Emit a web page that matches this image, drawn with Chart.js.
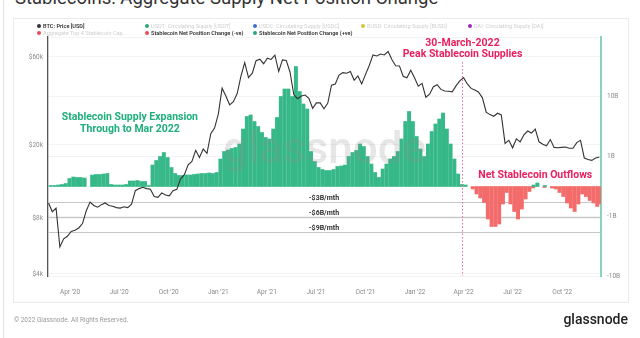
<!DOCTYPE html>
<html><head><meta charset="utf-8">
<script src="https://cdn.jsdelivr.net/npm/chart.js@4.4.1/dist/chart.umd.min.js"></script>
<style>
html,body{margin:0;padding:0;background:#fff;width:640px;height:338px;overflow:hidden;font-family:Roboto,'Noto Sans',sans-serif;}
#title{position:absolute;left:15px;top:-11px;font-size:18.5px;line-height:18px;color:#333;white-space:nowrap;}
#card{position:absolute;left:13px;top:18px;width:614px;height:283px;border:1px solid #ebebeb;}
#edge{position:absolute;left:3px;top:0;width:1px;height:338px;background:#e2e2e2;}
#wrap{position:absolute;left:0;top:0;width:640px;height:338px;}
.li{position:absolute;font-size:5.6px;line-height:7px;white-space:nowrap;}
.dot{display:inline-block;width:4px;height:4px;border-radius:50%;margin-right:2px;vertical-align:-0.5px;}
#copy{position:absolute;left:14px;top:316px;font-size:6.5px;color:#9a9a9a;}
#logo{position:absolute;right:12px;top:311px;font-size:14px;color:#222;font-weight:500;}
</style>
</head><body>
<div id="edge"></div>
<div id="title">Stablecoins: Aggregate Supply Net Position Change</div>
<div id="card"></div>
<div id="wrap"><canvas id="c" width="640" height="338"></canvas></div>
<div id="legend"></div>
<div id="copy">© 2022 Glassnode. All Rights Reserved.</div>
<div id="logo">glassnode</div>
<script>
// ---------- data ----------
const WEEK_START = '2020-02-21'; // first weekly observation (Fridays)
const BTC_PRICE = [
 9700,8700,9100,5600,6200,6400,6800,6900,7100,7500,
 8800,9800,9400,9200,9500,9700,9400,9300,9150,9100,
 9250,9150,9550,11300,11600,11800,11600,11500,10500,10400,
 11000,10700,10600,11300,11500,13100,13800,15600,16300,18700,
 17100,19000,18000,23000,24700,
 29400,40600,36800,33000,34300,38000,47200,55900,46300,49000,
 57200,58300,55100,59000,58100,61300,50000,57800,57400,49700,
 37500,35600,36800,37300,35800,31600,33800,33800,31400,33600,
 42200,42800,47800,49300,48900,50000,44900,47300,42800,48100,
 53900,61500,60700,62200,61500,64200,58100,53700,53600,47100,
 46200,50800,46300,
 41600,43100,36300,37700,41400,42400,40000,39200,39100,38800,
 41800,44500,46300,42800,40500,39700,38600,36000,30100,29200,
 28600,29700,29100,20400,21200,19300,21600,20800,22700,23800,
 23200,24400,20800,20200,19800,21400,19400,19300,19400,19500,
 19200,19200,20600,21200,17000,16700,16500,17000,17200
];
const NET_CHANGE_B = [
 0,0.2,0.2,0.3,0.4,0.6,1.6,1.9,1.8,1.8,
 1.7,0,2.3,2.4,2.4,2.5,2.6,0.4,0.3,0.3,
 0.3,0.4,1.1,1.1,1.2,1.0,1.0,0.2,4.3,5.2,
 6.0,6.8,5.8,3.8,2.6,2.2,2.2,2.3,2.3,2.4,
 2.5,2.6,2.6,2.7,2.6,2.8,5.5,7.0,7.3,7.6,
 7.8,8.5,11.5,14.0,14.3,13.0,12.0,10.8,9.8,9.5,
 11.5,13.8,18.0,19.5,19.5,18.0,24.0,19.0,16.5,15.5,
 7.0,5.0,3.8,3.4,3.2,3.2,3.4,4.0,4.1,4.3,
 6.0,6.8,7.2,8.5,8.0,6.0,4.5,2.8,1.8,3.5,
 4.5,5.5,6.0,7.0,9.5,13.0,15.0,13.0,10.0,7.5,
 6.0,8.5,11.0,12.5,13.5,14.7,11.5,8.5,5.5,2.5,
 0.4,0.3,-0.5,-1.5,-2.3,-3.2,-6.5,-8.0,-8.0,-7.5,
 -3.5,-1.2,-3.5,-5.0,-6.5,-4.5,-2.5,-1.0,-0.3,0.3,
 0.7,-0.2,0.2,-0.3,-0.5,-1.2,-2.0,-3.3,-4.3,-5.0,
 -3.5,-1.5,-2.0,-2.8,-3.3,-4.0,-3.5
];
const X_TICK_DATES = ['2020-04-01','2020-07-01','2020-10-01','2021-01-01','2021-04-01','2021-07-01','2021-10-01','2022-01-01','2022-04-01','2022-07-01','2022-10-01'];
const X_TICK_LABELS = ["Apr '20","Jul '20","Oct '20","Jan '21","Apr '21","Jul '21","Oct '21","Jan '22","Apr '22","Jul '22","Oct '22"];
const X_RANGE = ['2020-02-20','2022-12-12'];
const PRICE_TICKS = [4000,8000,20000,60000];
const PRICE_TICK_LABELS = ['$4k','$8k','$20k','$60k'];
const RIGHT_TICK_LABELS = ['','10B','1B','-1B','-10B'];
const GUIDE_LEVELS = [-3,-6,-9];
const GUIDE_LABELS = ['-$3B/mth','-$6B/mth','-$9B/mth'];
const GUIDE_LABEL_DATE = '2021-07-16';
const PEAK_DATE = '2022-03-30';
const PEAK_TEXT = ['30-March-2022','Peak Stablecoin Supplies'];
const OUTFLOW_TEXT = 'Net Stablecoin Outflows';
const OUTFLOW_DATE = '2022-08-12';
const EXPANSION_TEXT = ['Stablecoin Supply Expansion','Through to Mar 2022'];
const EXPANSION_DATE = '2020-07-21';
const LEGEND_ROWS = [
 [['BTC: Price [USD]','#333333',true],['USDT: Circulating Supply [USDT]','#2aa876',false],['USDC: Circulating Supply [USDC]','#3d6fd6',false],['BUSD: Circulating Supply [BUSD]','#d6c63c',false],['DAI: Circulating Supply [DAI]','#a12bc2',false]],
 [['Aggregate Top 4 Stablecoin Cap...','#ec4b55',false],['Stablecoin Net Position Change (-ve)','#ec4b55',true],['Stablecoin Net Position Change (+ve)','#2aa876',true]]
];

// ---------- helpers ----------
const DAY = 86400000;
const EPOCH = Date.UTC(2020,0,1);
const toDay = s => (Date.parse(s+'T00:00:00Z') - EPOCH) / DAY;
const start = toDay(WEEK_START);
const weekDays = BTC_PRICE.map((_, i) => start + 7*i);
const pricePts = BTC_PRICE.map((v,i)=>({x:weekDays[i], y:v}));
const posPts = NET_CHANGE_B.map((v,i)=>({x:weekDays[i], y: v>0 ? v : null}));
const negPts = NET_CHANGE_B.map((v,i)=>({x:weekDays[i], y: v<0 ? v : null}));
const xTickDays = X_TICK_DATES.map(toDay);

// legend
const LEG_X = [37,145,253,361,468], LEG_Y = [22.5,29.5];
const lg = document.getElementById('legend');
LEGEND_ROWS.forEach((row,r)=>row.forEach((it,c)=>{
  const d = document.createElement('div'); d.className='li';
  d.style.left = LEG_X[c]+'px'; d.style.top = LEG_Y[r]+'px';
  d.style.color = it[2] ? '#333' : '#cfcfcf'; d.style.fontWeight = it[2] ? 600 : 400;
  d.innerHTML = '<span class="dot" style="background:'+it[1]+'"></span>'+it[0];
  lg.appendChild(d);
}));

const PINK = '#ea1f5e', GREEN_TXT = '#1faf7b';
const annot = {
  id:'annot',
  beforeDatasetsDraw(chart){
    const {ctx, chartArea:a, scales} = chart;
    ctx.save(); ctx.strokeStyle = '#c6c6c6'; ctx.lineWidth = 1;
    GUIDE_LEVELS.forEach(v=>{ const y = Math.round(scales.y2.getPixelForValue(v))+0.5;
      ctx.beginPath(); ctx.moveTo(a.left,y); ctx.lineTo(a.right,y); ctx.stroke(); });
    ctx.restore();
  },
  afterDatasetsDraw(chart){
    const {ctx, chartArea:a, scales} = chart;
    const x = scales.x, y2 = scales.y2;
    ctx.save();
    // watermark
    ctx.fillStyle = 'rgba(140,140,140,0.22)';
    ctx.font = '500 44px Roboto, sans-serif'; ctx.textAlign='center'; ctx.textBaseline='middle';
    ctx.fillText('glassnode', (a.left+a.right)/2, 152);
    // guide labels
    ctx.fillStyle = '#333'; ctx.font = 'bold 7px Roboto, sans-serif'; ctx.textBaseline='alphabetic';
    GUIDE_LEVELS.forEach((v,i)=>ctx.fillText(GUIDE_LABELS[i], x.getPixelForValue(toDay(GUIDE_LABEL_DATE)), y2.getPixelForValue(v)-1.5));
    // peak dotted line
    const px = Math.round(x.getPixelForValue(toDay(PEAK_DATE)))+0.5;
    ctx.strokeStyle = '#f06a8c'; ctx.lineWidth = 1; ctx.setLineDash([1.5,2]);
    ctx.beginPath(); ctx.moveTo(px, a.top+25); ctx.lineTo(px, a.bottom); ctx.stroke(); ctx.setLineDash([]);
    // texts
    ctx.fillStyle = PINK; ctx.font = 'bold 10.5px Roboto, sans-serif'; ctx.textBaseline='middle';
    ctx.fillText(PEAK_TEXT[0], px, a.top+6);
    ctx.fillText(PEAK_TEXT[1], px, a.top+17);
    ctx.fillText(OUTFLOW_TEXT, x.getPixelForValue(toDay(OUTFLOW_DATE)), y2.getPixelForValue(2.3));
    ctx.fillStyle = GREEN_TXT;
    const ex = x.getPixelForValue(toDay(EXPANSION_DATE));
    ctx.fillText(EXPANSION_TEXT[0], ex, y2.getPixelForValue(13.9));
    ctx.fillText(EXPANSION_TEXT[1], ex, y2.getPixelForValue(11.5));
    ctx.restore();
  }
};

const tickFont = {family:'Roboto', size:6.5};
new Chart(document.getElementById('c'), {
  type:'bar',
  data:{ datasets:[
    {type:'line', label:'BTC: Price [USD]', data:pricePts, yAxisID:'y', borderColor:'#333', borderWidth:1.1, pointRadius:0, tension:0, order:0},
    {label:'Stablecoin Net Position Change (+ve)', data:posPts, yAxisID:'y2', backgroundColor:'#36b889', barThickness:3.3, order:1},
    {label:'Stablecoin Net Position Change (-ve)', data:negPts, yAxisID:'y2', backgroundColor:'#f36b6b', barThickness:3.3, order:1}
  ]},
  options:{
    responsive:false, animation:false, devicePixelRatio:1,
    layout:{padding:{top:37,left:0,right:0,bottom:0}},
    plugins:{legend:{display:false}, tooltip:{enabled:false}},
    scales:{
      x:{type:'linear', min:toDay(X_RANGE[0]), max:toDay(X_RANGE[1]), offset:false,
         grid:{display:false}, border:{display:false},
         afterBuildTicks:s=>{ s.ticks = xTickDays.map(v=>({value:v})); },
         ticks:{font:tickFont, color:'#8a8a8a', padding:4, maxRotation:0, autoSkip:false,
           callback:(v)=>{ const i = xTickDays.indexOf(v); return i>=0 ? X_TICK_LABELS[i] : ''; }},
         afterFit:s=>{ s.height = 62; }},
      y:{type:'logarithmic', position:'left', min:3900, max:76900,
         grid:{color:'#f3f3f3', drawTicks:false}, border:{color:'#555', width:1.3},
         afterBuildTicks:s=>{ s.ticks = PRICE_TICKS.map(v=>({value:v})); },
         ticks:{font:tickFont, color:'#8a8a8a', padding:5, autoSkip:false,
           callback:(v)=>{ const i = PRICE_TICKS.indexOf(v); return i>=0 ? PRICE_TICK_LABELS[i] : ''; }},
         afterFit:s=>{ s.width = 48; }},
      yR:{type:'category', position:'right', labels:RIGHT_TICK_LABELS, offset:false,
         grid:{color:'#f3f3f3', drawTicks:false}, border:{color:'#86d6b5', width:2},
         ticks:{font:tickFont, color:'#8a8a8a', padding:6, autoSkip:false},
         afterFit:s=>{ s.width = 39; }},
      y2:{type:'linear', display:false, min:-17.9, max:29.9}
    }
  },
  plugins:[annot]
});
</script>
</body></html>
